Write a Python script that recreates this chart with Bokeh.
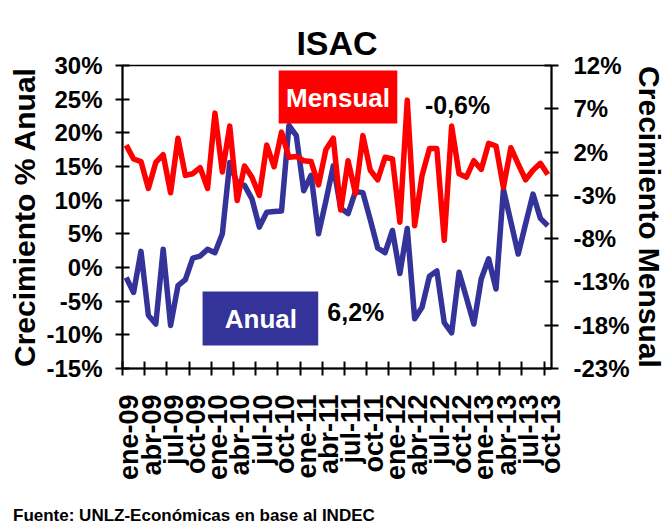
import math
from bokeh.plotting import figure
from bokeh.layouts import column
from bokeh.models import (Range1d, LinearAxis, FixedTicker, PrintfTickFormatter,
                          Label, BoxAnnotation, Div)
from bokeh.embed import file_html
from bokeh.resources import INLINE

# ---------------- data ----------------
months = ["ene", "feb", "mar", "abr", "may", "jun", "jul", "ago", "sep", "oct", "nov", "dic"]
years = ["09", "10", "11", "12", "13"]
periods = [f"{m}-{y}" for y in years for m in months][:58]   # ene-09 ... oct-13

# Variación anual (%), eje izquierdo
anual = [-1.5, -3.7, 2.4, -7.1, -8.4, 2.7, -8.6, -2.7, -1.8, 1.4,
         1.7, 2.7, 2.2, 5.0, 15.6, 12.5, 12.2, 10.2, 6.0, 8.2,
         8.3, 8.4, 21.1, 19.6, 11.4, 13.7, 5.0, 9.9, 15.1, 8.8,
         8.0, 11.3, 11.1, 7.1, 2.9, 2.2, 5.5, -0.9, 5.8, -7.6,
         -5.9, -1.3, -0.5, -8.2, -9.7, -0.7, -4.5, -8.4, -1.7, 1.3,
         -3.2, 11.6, 6.8, 2.0, 6.5, 10.9, 7.3, 6.2]

# Variación mensual (%), eje derecho
mensual = [2.8, 1.2, 0.9, -2.2, 0.8, 1.7, -2.7, 3.6, -0.7, -0.5,
           0.2, -2.2, 6.5, -0.3, 5.0, -3.6, 0.4, -0.9, -3.0, 2.8,
           0.3, 4.3, 1.4, 1.5, 1.0, 0.9, -1.8, 2.3, 3.6, -4.7,
           1.0, -2.8, 3.9, -0.1, -1.2, 1.4, 1.2, -6.1, 8.0, -6.5,
           -0.7, 2.4, 2.4, -8.2, 5.0, -0.5, -0.9, 1.0, 0.0, 3.0,
           2.7, -2.1, 2.5, 0.6, -1.2, -0.1, 0.7, -0.6]

left_ticks = [30, 25, 20, 15, 10, 5, 0, -5, -10, -15]
right_ticks = [12, 7, 2, -3, -8, -13, -18, -23]

title_text = "ISAC"
left_title = "Crecimiento % Anual"
right_title = "Crecimiento Mensual"
source_text = "Fuente: UNLZ-Económicas en base al INDEC"
last_mensual = "-0,6%"
last_anual = "6,2%"

BLUE = "#333399"
RED = "#FF0000"
FONT = "Liberation Sans"

# ---------------- geometry helpers (page px -> data) ----------------
W, H, FOOT = 668, 500, 27
ML, MR, MT, MB = 122, 112, 65, 132
FL, FR, FT, FB = ML, W - MR, MT, H - MB   # frame in page px
N = len(periods)

def px_x(px):
    return (px - FL) / (FR - FL) * N

def px_y(py):
    return 30 - (py - FT) / (FB - FT) * 45

# ---------------- figure ----------------
p = figure(width=W, height=H, output_backend="svg", toolbar_location=None,
           x_range=Range1d(0, N), y_range=Range1d(-15, 30),
           min_border_left=ML, min_border_right=MR,
           min_border_top=MT, min_border_bottom=MB)
p.extra_y_ranges = {"mensual": Range1d(-23, 12)}
p.grid.visible = False
p.background_fill_color = "white"
p.border_fill_color = "white"
p.outline_line_color = "black"
p.outline_line_width = 1.5

# chart title
p.title.text = title_text
p.title.align = "center"
p.title.text_font = FONT
p.title.text_font_style = "bold"
p.title.text_font_size = "34px"
p.title.text_color = "black"
p.title.standoff = 8

xs = [i + 0.5 for i in range(N)]
p.line(xs, anual, color=BLUE, line_width=5.5, line_join="round")
p.line(xs, mensual, color=RED, line_width=5.5, line_join="round", y_range_name="mensual")

# x axis
OFF = 0.9375
label_idx = list(range(0, N, 3))
xa = p.xaxis[0]
xa.ticker = FixedTicker(ticks=[i + OFF for i in label_idx], minor_ticks=label_idx)
xa.major_label_overrides = {i + OFF: periods[i] for i in label_idx}
xa.major_tick_in = 0
xa.major_tick_out = 0
xa.minor_tick_in = 7
xa.minor_tick_out = 7
xa.minor_tick_line_width = 2
xa.minor_tick_line_color = "black"
xa.axis_line_width = 2
xa.axis_line_color = "black"
xa.major_label_orientation = math.pi / 2
xa.major_label_standoff = 19
xa.major_label_text_font = FONT
xa.major_label_text_font_style = "bold"
xa.major_label_text_font_size = "27px"
xa.major_label_text_color = "black"

# left axis
ya = p.yaxis[0]
ya.ticker = FixedTicker(ticks=left_ticks)
ya.formatter = PrintfTickFormatter(format="%d%%")
ya.major_tick_in = 7
ya.major_tick_out = 7
ya.major_tick_line_width = 2
ya.minor_tick_line_color = None
ya.axis_line_width = 2
ya.axis_line_color = "black"
ya.major_label_standoff = 13
ya.major_label_text_font = FONT
ya.major_label_text_font_style = "bold"
ya.major_label_text_font_size = "24px"
ya.major_label_text_color = "black"
ya.axis_label = left_title
ya.axis_label_standoff = 2
ya.axis_label_text_font = FONT
ya.axis_label_text_font_style = "bold"
ya.axis_label_text_font_size = "30px"
ya.axis_label_text_color = "black"

# right axis
ra = LinearAxis(y_range_name="mensual", ticker=FixedTicker(ticks=right_ticks),
                formatter=PrintfTickFormatter(format="%d%%"))
ra.major_tick_in = 7
ra.major_tick_out = 7
ra.major_tick_line_width = 2
ra.minor_tick_line_color = None
ra.axis_line_width = 2
ra.axis_line_color = "black"
ra.major_label_standoff = 15
ra.major_label_text_font = FONT
ra.major_label_text_font_style = "bold"
ra.major_label_text_font_size = "24px"
ra.major_label_text_color = "black"
ra.axis_label = right_title
ra.axis_label_standoff = 0
ra.axis_label_text_font = FONT
ra.axis_label_text_font_style = "bold"
ra.axis_label_text_font_size = "30px"
ra.axis_label_text_color = "black"
p.add_layout(ra, "right")

# annotation boxes
p.add_layout(BoxAnnotation(left=px_x(280), right=px_x(400), top=px_y(70), bottom=px_y(123),
                           fill_color=RED, fill_alpha=1, line_color=None))
p.add_layout(BoxAnnotation(left=px_x(203), right=px_x(320), top=px_y(291), bottom=px_y(345),
                           fill_color=BLUE, fill_alpha=1, line_color=None))
p.add_layout(Label(x=px_x(340), y=px_y(97), text="Mensual", text_align="center",
                   text_baseline="middle", text_font=FONT, text_font_style="bold",
                   text_font_size="26px", text_color="white"))
p.add_layout(Label(x=px_x(262), y=px_y(318), text="Anual", text_align="center",
                   text_baseline="middle", text_font=FONT, text_font_style="bold",
                   text_font_size="26px", text_color="white"))
p.add_layout(Label(x=px_x(461), y=px_y(104), text=last_mensual, text_align="center",
                   text_baseline="middle", text_font=FONT, text_font_style="bold",
                   text_font_size="25px", text_color="black"))
p.add_layout(Label(x=px_x(358), y=px_y(311), text=last_anual, text_align="center",
                   text_baseline="middle", text_font=FONT, text_font_style="bold",
                   text_font_size="25px", text_color="black"))

# source (footer)
foot = Div(text=source_text, width=W, height=FOOT, margin=(0, 0, 0, 0),
           styles={"font-family": FONT, "font-weight": "bold", "font-size": "17px",
                   "color": "black", "padding-left": "13px", "padding-top": "4px",
                   "box-sizing": "border-box", "background-color": "white"})

layout = column(p, foot, spacing=0)
open("out.html", "w").write(file_html(layout, INLINE))
